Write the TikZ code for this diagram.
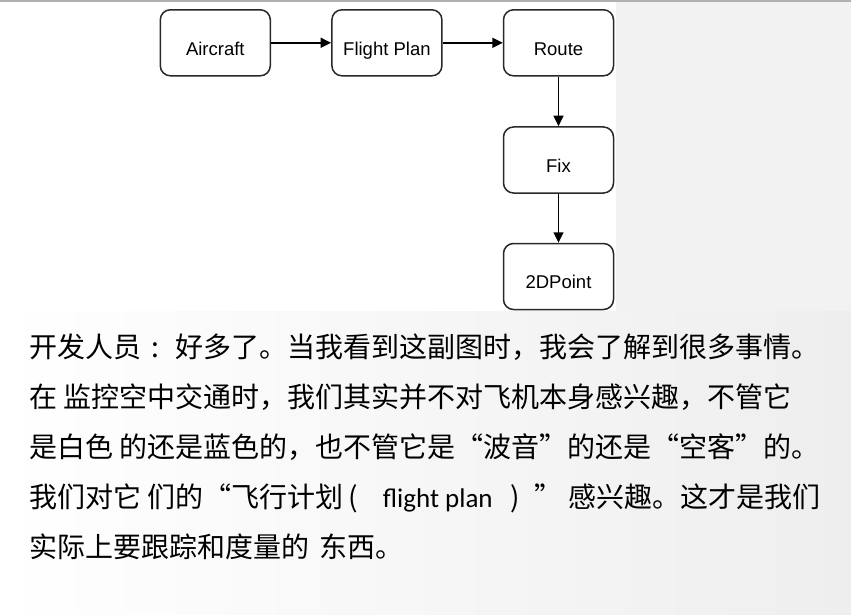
\documentclass[tikz,border=0pt]{standalone}
\usepackage{fontspec}
\setmainfont{Liberation Sans}
\newfontfamily\cjkfont{Noto Sans CJK SC}
\newfontfamily\latfont{Carlito}
\usetikzlibrary{arrows.meta}
\definecolor{bggray}{RGB}{242,242,242}
\definecolor{bgright}{RGB}{238,238,238}
\definecolor{topline}{RGB}{176,176,176}
\definecolor{boxline}{RGB}{40,40,40}
\tikzset{
  box/.style={draw=boxline, line width=1.5pt, rounded corners=10pt, fill=white,
    minimum width=110pt, minimum height=66pt, inner sep=0pt,
    font=\fontsize{18.5}{20}\selectfont},
  conn/.style={draw=black, line width=1.6pt, -{Triangle[length=10.5pt,width=10pt]}},
  para/.style={anchor=base west, inner sep=0pt, font=\cjkfont\fontsize{28}{30}\selectfont}
}
\newcommand{\lbl}[1]{\raisebox{-12.4pt}[0pt][0pt]{#1}}
\begin{document}
\begin{tikzpicture}[x=1pt,y=-1pt]
\useasboundingbox (0,0) rectangle (851,615);
% background
\shade[left color=white, right color=bgright] (0,0) rectangle (851,615);
\fill[bggray] (616,0) rectangle (851,311);
\fill[white] (0,0) rectangle (616,311);
\fill[topline] (0,0) rectangle (851,1.8);
% boxes
\node[box] (aircraft) at (215.3,42.8) {\lbl{Aircraft}};
\node[box] (plan) at (386.9,42.8) {\lbl{Flight Plan}};
\node[box] (route) at (558.5,42.8) {\lbl{Route}};
\node[box] (fix) at (558.5,160) {\lbl{Fix}};
\node[box] (point) at (558.5,276.5) {\lbl{2DPoint}};
% connectors
\draw[conn] (aircraft) -- (plan);
\draw[conn] (plan) -- (route);
\draw[conn] (route) -- (fix);
\draw[conn] (fix) -- (point);
% text
\node[para] (l1) at (29,357) {开发人员\makebox[1em]{:} 好多了。当我看到这副图时，我会了解到很多事情。};
\node[para] (l2) at (29,407) {在 监控空中交通时，我们其实并不对飞机本身感兴趣，不管它};
\node[para] (l3) at (29,457) {是白色 的还是蓝色的，也不管它是“波音”的还是“空客”的。};
\node[para] (l4) at (29,507) {我们对它 们的“飞行计划\hspace{5pt}(\hspace{25pt}{\latfont\fontsize{27}{30}\selectfont flight plan}\hspace{18pt})\hspace{14pt}” 感兴趣。这才是我们};
\node[para] (l5) at (29,557) {实际上要跟踪和度量的\hspace{10pt}东西。};
\end{tikzpicture}
\end{document}
